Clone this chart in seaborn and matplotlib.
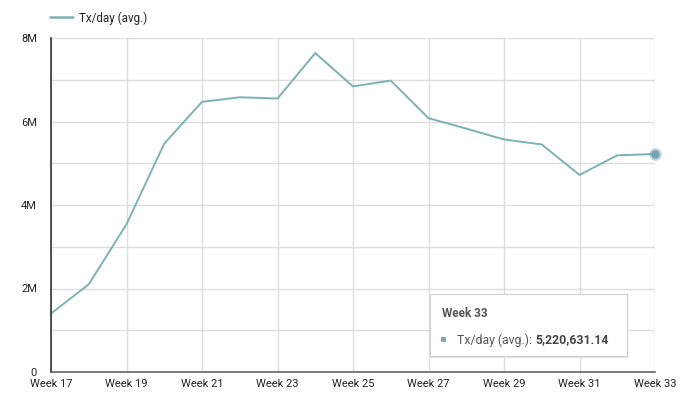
import matplotlib
matplotlib.use("Agg")
import matplotlib.pyplot as plt
import seaborn as sns
import pandas as pd
from matplotlib.patches import FancyBboxPatch, Rectangle
from matplotlib.lines import Line2D

weeks = list(range(17, 34))
tx_per_day = [1.40e6, 2.10e6, 3.54e6, 5.47e6, 6.47e6, 6.58e6, 6.55e6, 7.64e6,
              6.84e6, 6.98e6, 6.08e6, 5.83e6, 5.57e6, 5.45e6, 4.72e6, 5.19e6,
              5220631.14]
series_name = "Tx/day (avg.)"
tick_weeks = list(range(17, 34, 2))
tick_labels = [f"Week {w}" for w in tick_weeks]
y_ticks = [0, 2e6, 4e6, 6e6, 8e6]
y_labels = ["0", "2M", "4M", "6M", "8M"]
tooltip_title = "Week 33"
tooltip_value = "5,220,631.14"

df = pd.DataFrame({"week": weeks, "value": tx_per_day})

sns.set_theme(style="white")
plt.rcParams["font.family"] = ["Roboto", "DejaVu Sans"]

line_color = "#7ab3b2"
text_color = "#222222"

fig = plt.figure(figsize=(7.0, 4.1), dpi=100)
ax = fig.add_axes([51/700, 37/410, 604/700, 334/410])

sns.lineplot(data=df, x="week", y="value", ax=ax, color=line_color, linewidth=1.4)
ax.plot([weeks[-1]], [tx_per_day[-1]], "o", color="#6a9fb0", markersize=9, alpha=0.45,
        markeredgewidth=0, clip_on=False, zorder=5)
ax.plot([weeks[-1]], [tx_per_day[-1]], "o", color="#6a9fb0", markersize=6, alpha=0.9,
        markeredgewidth=0, clip_on=False, zorder=6)

ax.set_xlim(17, 33)
ax.set_ylim(0, 8e6)
ax.set_xticks(tick_weeks)
ax.set_xticklabels(tick_labels)
ax.set_yticks(y_ticks)
ax.set_yticklabels(y_labels)
ax.set_yticks([1e6, 3e6, 5e6, 7e6], minor=True)
ax.grid(True, which="major", color="#dddddd", linewidth=1)
ax.grid(True, which="minor", axis="y", color="#dddddd", linewidth=1)
ax.set_axisbelow(True)
ax.set_xlabel("")
ax.set_ylabel("")
ax.tick_params(axis="both", which="both", length=0, labelsize=8, colors=text_color)
ax.tick_params(axis="x", pad=4)
ax.tick_params(axis="y", pad=10)
for lab in ax.get_yticklabels():
    lab.set_verticalalignment("center")
for s in ["top", "right"]:
    ax.spines[s].set_visible(False)
ax.spines["left"].set_color("#333333")
ax.spines["left"].set_linewidth(1.2)
ax.spines["bottom"].set_color("#666666")
ax.spines["bottom"].set_linewidth(1.2)

# legend
fig.add_artist(Line2D([50/700, 73/700], [1 - 18/410, 1 - 18/410], color=line_color, linewidth=1.8))
fig.text(79/700, 1 - 18/410, series_name, fontsize=8.4, color=text_color, va="center", ha="left")

# tooltip
tx0, ty0, tw, th = 430/700, 1 - 357/410, 197/700, 62/410
shadow = FancyBboxPatch((tx0 + 1/700, ty0 - 1.5/410), tw, th, boxstyle="square,pad=0",
                        transform=fig.transFigure, facecolor="#e4e4e4", edgecolor="none", zorder=9)
box = FancyBboxPatch((tx0, ty0), tw, th, boxstyle="square,pad=0",
                     transform=fig.transFigure, facecolor="white", edgecolor="#d0d0d0",
                     linewidth=0.8, zorder=10)
fig.add_artist(shadow)
fig.add_artist(box)
fig.text(442/700, 1 - 314/410, tooltip_title, fontsize=8.5, fontweight="bold", color="#555555",
         va="center", ha="left", zorder=11)
fig.add_artist(Rectangle((441/700, 1 - 343/410), 5/700, 5/410, transform=fig.transFigure,
                         facecolor="#79a9bd", edgecolor="none", zorder=11))
t1 = fig.text(457/700, 1 - 340/410, f"{series_name}: ", fontsize=8.8, color="#555555",
              va="center", ha="left", zorder=11)
fig.canvas.draw()
bb = t1.get_window_extent()
fig.text(bb.x1 / fig.bbox.width, 1 - 340/410, tooltip_value, fontsize=8.8, fontweight="bold",
         color="#444444", va="center", ha="left", zorder=11)

fig.savefig("out.png", dpi=100, facecolor="white")
